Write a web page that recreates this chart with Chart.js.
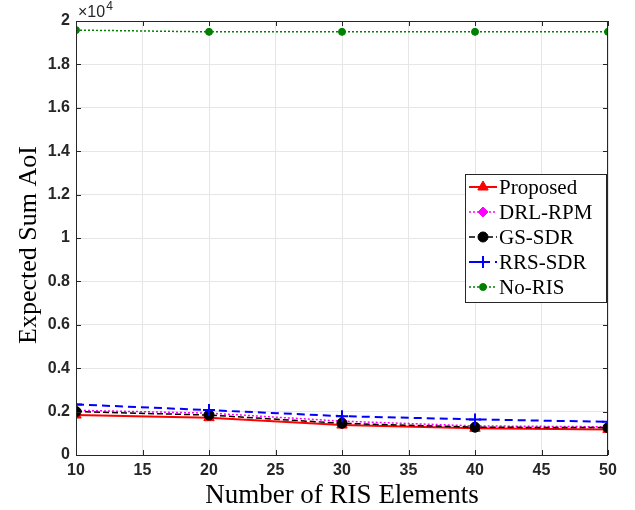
<!DOCTYPE html>
<html>
<head>
<meta charset="utf-8">
<script src="https://cdn.jsdelivr.net/npm/chart.js@4.4.1/dist/chart.umd.min.js"></script>
<style>
  html, body { margin: 0; padding: 0; background: #fff; }
</style>
</head>
<body>
<canvas id="aoiChart" width="635" height="510"></canvas>
<script>
// Datos
const risElements = [10, 20, 30, 40, 50];
const proposed = [1840, 1720, 1380, 1230, 1180];
const drlRpm = [2060, 1930, 1560, 1340, 1300];
const gsSdr = [2000, 1840, 1460, 1280, 1260];
const rrsSdr = [2330, 2070, 1790, 1640, 1530];
const noRis = [19580, 19500, 19500, 19500, 19500];
const xTicks = [10, 15, 20, 25, 30, 35, 40, 45, 50];
const yTicks = [0, 2000, 4000, 6000, 8000, 10000, 12000, 14000, 16000, 18000, 20000];

const toPoints = (arr) => arr.map((v, i) => ({ x: risElements[i], y: v }));

// Marco, ticks interiores, títulos y leyenda al estilo MATLAB
const matlabFrame = {
    id: "matlabFrame",
    afterDraw(chart) {
        const { ctx, chartArea: a, scales } = chart;
        ctx.save();
        ctx.strokeStyle = "#262626";
        ctx.lineWidth = 1;
        ctx.strokeRect(a.left + 0.5, a.top + 0.5, a.right - a.left - 1, a.bottom - a.top);
        ctx.beginPath();
        xTicks.forEach((t) => {
            const px = Math.round(scales.x.getPixelForValue(t)) + 0.5;
            ctx.moveTo(px, a.bottom); ctx.lineTo(px, a.bottom - 5);
            ctx.moveTo(px, a.top); ctx.lineTo(px, a.top + 5);
        });
        yTicks.forEach((t) => {
            const py = Math.round(scales.y.getPixelForValue(t)) + 0.5;
            ctx.moveTo(a.left, py); ctx.lineTo(a.left + 5, py);
            ctx.moveTo(a.right, py); ctx.lineTo(a.right - 5, py);
        });
        ctx.stroke();

        // multiplicador x10^4
        ctx.fillStyle = "#262626";
        ctx.textBaseline = "alphabetic";
        ctx.textAlign = "left";
        ctx.font = "16px 'Liberation Sans'";
        ctx.fillText("\u00d710", a.left + 2, 17);
        const w = ctx.measureText("\u00d710").width;
        ctx.font = "12px 'Liberation Sans'";
        ctx.fillText("4", a.left + 3 + w, 10);

        // títulos de ejes
        ctx.fillStyle = "#000";
        ctx.font = "27px 'Liberation Serif'";
        ctx.textAlign = "center";
        ctx.fillText("Number of RIS Elements", (a.left + a.right) / 2, 503);
        ctx.save();
        ctx.translate(36, 245);
        ctx.rotate(-Math.PI / 2);
        ctx.font = "26px 'Liberation Serif'";
        ctx.fillText("Expected Sum AoI", 0, 0);
        ctx.restore();

        // leyenda
        const lx = 465, ly = 174, lw = 141, lh = 128;
        ctx.fillStyle = "#fff";
        ctx.fillRect(lx, ly, lw, lh);
        ctx.strokeStyle = "#262626";
        ctx.strokeRect(lx + 0.5, ly + 0.5, lw, lh);
        chart.data.datasets.forEach((ds, i) => {
            const cy = ly + 13 + i * 25;
            ctx.save();
            ctx.strokeStyle = ds.borderColor;
            ctx.lineWidth = ds.borderWidth;
            ctx.setLineDash(ds.borderDash || []);
            ctx.beginPath();
            ctx.moveTo(lx + 4, cy); ctx.lineTo(lx + 32, cy);
            ctx.stroke();
            ctx.setLineDash([]);
            ctx.fillStyle = ds.pointBackgroundColor;
            ctx.strokeStyle = ds.borderColor;
            ctx.lineWidth = ds.pointBorderWidth;
            Chart.helpers.drawPoint(ctx, {
                pointStyle: ds.pointStyle,
                radius: ds.pointRadius,
                rotation: 0,
                borderWidth: ds.pointBorderWidth,
            }, lx + 18, cy);
            ctx.restore();
            ctx.fillStyle = "#000";
            ctx.textAlign = "left";
            ctx.textBaseline = "middle";
            ctx.font = "21px 'Liberation Serif'";
            ctx.fillText(ds.label, lx + 34, cy + 1);
        });
        ctx.restore();
    },
};

document.addEventListener("DOMContentLoaded", () => {
    const ctx = document.getElementById("aoiChart").getContext("2d");

    new Chart(ctx, {
        type: "line",
        data: {
            datasets: [
                {
                    label: "Proposed",
                    data: toPoints(proposed),
                    borderColor: "#ff0000",
                    pointBackgroundColor: "#ff0000",
                    borderWidth: 2,
                    pointStyle: "triangle",
                    pointRadius: 6,
                    pointBorderWidth: 1,
                    order: 5,
                },
                {
                    label: "DRL-RPM",
                    data: toPoints(drlRpm),
                    borderColor: "#ff00ff",
                    pointBackgroundColor: "#ff00ff",
                    borderWidth: 1.5,
                    borderDash: [2, 2],
                    pointStyle: "rectRot",
                    pointRadius: 5,
                    pointBorderWidth: 1,
                    order: 4,
                },
                {
                    label: "GS-SDR",
                    data: toPoints(gsSdr),
                    borderColor: "#000000",
                    pointBackgroundColor: "#000000",
                    borderWidth: 1.5,
                    borderDash: [6, 3],
                    pointStyle: "circle",
                    pointRadius: 5,
                    pointBorderWidth: 1,
                    order: 3,
                },
                {
                    label: "RRS-SDR",
                    data: toPoints(rrsSdr),
                    borderColor: "#0000ff",
                    pointBackgroundColor: "#0000ff",
                    borderWidth: 2,
                    borderDash: [8, 5],
                    pointStyle: "cross",
                    pointRadius: 6,
                    pointBorderWidth: 2,
                    order: 2,
                },
                {
                    label: "No-RIS",
                    data: toPoints(noRis),
                    borderColor: "#008000",
                    pointBackgroundColor: "#008000",
                    borderWidth: 1.5,
                    borderDash: [2, 2],
                    pointStyle: "circle",
                    pointRadius: 3.5,
                    pointBorderWidth: 1,
                    order: 1,
                },
            ],
        },
        options: {
            responsive: false,
            animation: false,
            devicePixelRatio: 1,
            layout: { padding: { top: 21, right: 27, left: 0, bottom: 0 } },
            plugins: {
                legend: { display: false },
                tooltip: { enabled: false },
            },
            scales: {
                x: {
                    type: "linear",
                    min: 10,
                    max: 50,
                    afterBuildTicks: (s) => { s.ticks = xTicks.map((v) => ({ value: v })); },
                    afterFit: (s) => { s.height = 55; },
                    ticks: {
                        color: "#262626",
                        font: { family: "'Liberation Sans'", size: 16, weight: "bold" },
                        padding: 6,
                        maxRotation: 0,
                    },
                    grid: { color: "#e6e6e6", drawTicks: false },
                    border: { display: false },
                },
                y: {
                    min: 0,
                    max: 20000,
                    afterBuildTicks: (s) => { s.ticks = yTicks.map((v) => ({ value: v })); },
                    afterFit: (s) => { s.width = 76; },
                    ticks: {
                        color: "#262626",
                        font: { family: "'Liberation Sans'", size: 16, weight: "bold" },
                        padding: 6,
                        callback: (v) => String(Number((v / 10000).toFixed(1))),
                    },
                    grid: { color: "#e6e6e6", drawTicks: false },
                    border: { display: false },
                },
            },
        },
        plugins: [matlabFrame],
    });
});
</script>
</body>
</html>
